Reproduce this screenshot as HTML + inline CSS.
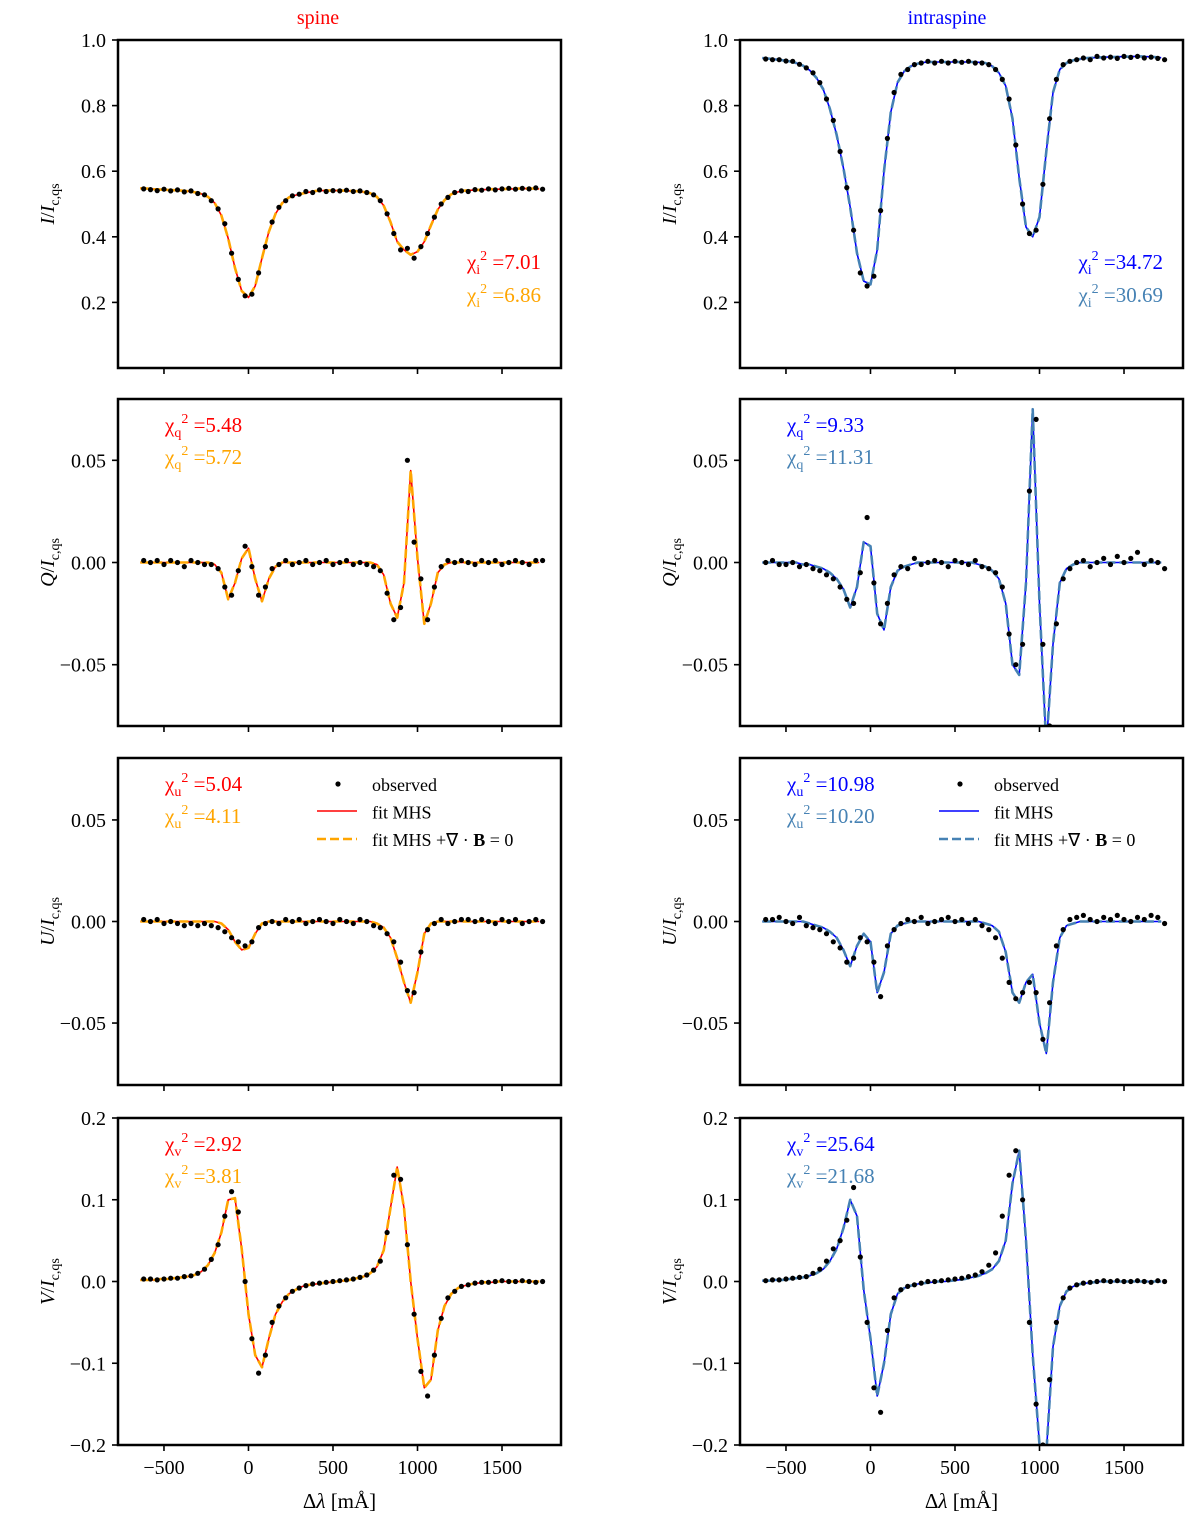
<!DOCTYPE html>
<html><head><meta charset="utf-8"><style>
body{margin:0;background:#fff}
svg{display:block;font-family:"Liberation Serif",serif}
</style></head><body>
<svg id="fig" width="1200" height="1529" xmlns="http://www.w3.org/2000/svg"></svg>
<script>
const X = [-640,-600,-560,-520,-480,-440,-400,-360,-320,-280,-240,-200,-160,-120,-80,-40,0,40,80,120,160,200,240,280,320,360,400,440,480,520,560,600,640,680,720,760,800,840,880,920,960,1000,1040,1080,1120,1160,1200,1240,1280,1320,1360,1400,1440,1480,1520,1560,1600,1640,1680,1720];
const XOBS = X.map(v => v + 20);
const xTicks = [-500, 0, 500, 1000, 1500];
const xTickLabels = ['\u2212500','0','500','1000','1500'];

const spineI_fit = [.548,.547,.545,.544,.543,.542,.541,.539,.536,.531,.522,.503,.465,.395,.305,.235,.215,.25,.335,.415,.47,.503,.52,.527,.532,.536,.54,.541,.541,.541,.541,.54,.539,.537,.533,.522,.495,.445,.385,.36,.345,.355,.385,.435,.483,.512,.53,.537,.541,.542,.543,.544,.545,.545,.546,.546,.547,.547,.547,.546];
const spineI_obs = [.546,.544,.541,.545,.540,.543,.537,.540,.532,.528,.51,.485,.44,.35,.27,.22,.225,.29,.37,.445,.49,.51,.525,.53,.538,.535,.543,.538,.541,.54,.542,.538,.54,.535,.528,.51,.47,.41,.36,.365,.335,.37,.41,.46,.50,.52,.535,.54,.538,.544,.542,.546,.543,.546,.548,.545,.548,.546,.549,.545];
const spineQ_fit = [0,0,0,0,0,0,0,0,0,0,0,-.001,-.005,-.018,-.01,.002,.007,-.008,-.019,-.008,-.002,0,0,0,0,0,0,0,0,0,0,0,0,0,0,-.001,-.006,-.02,-.027,-.01,.045,.002,-.03,-.02,-.005,-.001,0,0,0,0,0,0,0,0,0,0,0,0,0,0];
const spineQ_obs = [.001,0,.001,-.001,.001,0,-.002,.001,0,-.001,-.001,-.003,-.012,-.016,-.004,.008,-.002,-.016,-.012,-.003,-.001,.001,-.001,0,.001,-.001,0,.001,-.001,0,.001,-.001,0,-.001,-.002,-.004,-.015,-.028,-.022,.05,.01,-.008,-.028,-.012,-.002,.001,0,.001,0,-.001,.001,0,.001,-.001,0,.001,0,-.001,.001,.001];
const spineU_fit = [0,0,0,0,0,0,0,0,0,0,0,0,-.001,-.004,-.01,-.014,-.013,-.006,-.001,0,0,0,0,0,0,0,0,0,0,0,0,0,0,0,0,-.001,-.003,-.008,-.018,-.03,-.04,-.025,-.006,-.001,0,0,0,0,0,0,0,0,0,0,0,0,0,0,0,0];
const spineU_obs = [.001,0,.001,-.001,0,-.001,-.002,-.001,-.002,-.001,-.002,-.003,-.005,-.008,-.01,-.012,-.01,-.003,-.001,0,-.001,.001,0,.001,-.001,0,.001,0,-.001,.001,0,-.001,.001,0,-.002,-.003,-.006,-.01,-.02,-.034,-.035,-.015,-.004,-.001,.001,-.001,0,.001,.001,0,.001,0,-.001,.001,0,.001,-.001,0,.001,0];
const spineV_fit = [.002,.002,.002,.003,.003,.004,.005,.006,.008,.012,.02,.035,.06,.1,.102,.04,-.04,-.09,-.105,-.07,-.04,-.025,-.015,-.01,-.006,-.004,-.003,-.002,-.001,0,.001,.002,.004,.006,.01,.018,.038,.09,.14,.09,0,-.07,-.13,-.12,-.06,-.03,-.015,-.008,-.005,-.003,-.002,-.001,-.001,0,0,0,0,0,0,0];
const spineV_obs = [.003,.003,.002,.003,.004,.004,.006,.007,.01,.015,.027,.045,.08,.11,.085,0,-.07,-.112,-.09,-.05,-.03,-.02,-.012,-.008,-.005,-.003,-.002,-.001,0,.001,.002,.003,.005,.008,.014,.025,.06,.13,.125,.045,-.04,-.11,-.14,-.09,-.045,-.02,-.012,-.006,-.004,-.002,-.001,-.001,0,.001,0,0,.001,0,-.001,0];

const intraI_fit = [.945,.943,.941,.938,.935,.93,.922,.908,.885,.85,.79,.71,.61,.49,.35,.265,.255,.36,.6,.78,.87,.905,.92,.928,.932,.933,.933,.933,.933,.933,.933,.933,.932,.93,.92,.9,.86,.76,.58,.43,.40,.46,.66,.84,.91,.93,.938,.942,.945,.946,.947,.948,.948,.949,.949,.95,.95,.949,.948,.946];
const intraI_obs = [.942,.94,.94,.936,.935,.926,.915,.9,.87,.82,.755,.66,.55,.42,.29,.25,.28,.48,.7,.84,.895,.91,.925,.93,.935,.93,.935,.93,.935,.932,.935,.93,.93,.925,.91,.88,.82,.68,.5,.41,.42,.56,.76,.88,.925,.935,.94,.945,.94,.95,.945,.948,.944,.95,.947,.95,.945,.948,.944,.94];
const intraQ_fit = [0,0,0,0,0,0,-.001,-.001,-.002,-.003,-.005,-.008,-.013,-.022,-.012,.01,.008,-.025,-.033,-.012,-.004,-.002,-.001,0,0,0,0,0,0,0,0,0,-.001,-.002,-.004,-.008,-.02,-.05,-.055,-.01,.075,-.02,-.09,-.04,-.01,-.003,-.001,0,0,0,0,0,0,0,0,0,0,0,0,0];
const intraQ_obs = [0,.001,-.001,-.001,0,-.002,-.001,-.003,-.004,-.006,-.008,-.012,-.018,-.02,-.005,.022,-.01,-.03,-.02,-.006,-.002,-.003,.002,-.001,0,.001,0,-.002,.001,0,-.001,.001,-.002,-.003,-.005,-.012,-.035,-.05,-.04,.035,.07,-.04,-.08,-.03,-.008,-.003,0,.001,-.002,0,.002,-.001,.003,0,.002,.005,-.001,.001,0,-.003];
const intraU_fit = [0,0,0,0,0,0,0,-.001,-.002,-.003,-.005,-.008,-.014,-.022,-.012,-.006,-.01,-.035,-.025,-.006,-.002,-.001,0,0,0,0,0,0,0,0,0,0,0,-.001,-.002,-.005,-.015,-.035,-.04,-.03,-.026,-.05,-.065,-.03,-.008,-.002,-.001,0,0,0,0,0,0,0,0,0,0,0,0,0];
const intraU_obs = [.001,.001,.002,0,-.001,.002,-.002,-.003,-.004,-.006,-.01,-.013,-.02,-.018,-.008,-.01,-.02,-.037,-.012,-.004,-.001,.001,0,.002,-.001,0,.001,.002,0,.001,-.001,.001,-.002,-.004,-.008,-.018,-.03,-.038,-.035,-.03,-.035,-.058,-.04,-.012,-.004,.001,.002,.003,.001,0,.002,.001,.003,.001,0,.002,.001,.003,.002,-.001];
const intraV_fit = [.001,.001,.002,.002,.003,.004,.005,.007,.01,.015,.025,.04,.065,.1,.08,-.01,-.07,-.14,-.1,-.04,-.015,-.008,-.005,-.003,-.002,-.001,0,0,.001,.002,.003,.005,.007,.01,.015,.025,.05,.12,.16,.05,-.09,-.2,-.21,-.08,-.03,-.012,-.006,-.003,-.002,-.001,0,0,0,0,0,0,0,0,0,0];
const intraV_obs = [.001,.002,.002,.003,.004,.005,.006,.01,.015,.025,.04,.05,.075,.115,.03,-.05,-.13,-.16,-.06,-.02,-.01,-.006,-.004,-.002,0,0,.001,.002,.003,.004,.006,.008,.012,.02,.035,.08,.13,.16,.1,-.05,-.15,-.2,-.12,-.05,-.02,-.008,-.004,-.002,-.001,0,.001,0,.001,0,0,.001,0,-.001,.001,0];

const ticksI = [0.2,0.4,0.6,0.8,1.0];
const ticksIlab = ['0.2','0.4','0.6','0.8','1.0'];
const ticksQU = [0.05,0,-0.05];
const ticksQUlab = ['0.05','0.00','\u22120.05'];
const ticksV = [0.2,0.1,0,-0.1,-0.2];
const ticksVlab = ['0.2','0.1','0.0','\u22120.1','\u22120.2'];
const chiLeft = [['i','7.01','6.86'],['q','5.48','5.72'],['u','5.04','4.11'],['v','2.92','3.81']];
const chiRight = [['i','34.72','30.69'],['q','9.33','11.31'],['u','10.98','10.20'],['v','25.64','21.68']];

const NS='http://www.w3.org/2000/svg';
const svg=document.getElementById('fig');
function mk(tag,attrs,parent){const e=document.createElementNS(NS,tag);for(const k in attrs)e.setAttribute(k,attrs[k]);(parent||svg).appendChild(e);return e;}

const cols=[{x0:118,x1:561,tx:318,solid:'#ff0000',dash:'#ffa500',chi1:'#ff0000',chi2:'#ffa500',name:'spine'},
            {x0:740,x1:1183,tx:947,solid:'#0000ff',dash:'#4682b4',chi1:'#0000ff',chi2:'#4682b4',name:'intraspine'}];
const rows=[{y0:40,y1:368,ymin:0.0,ymax:1.0,ticks:ticksI,lab:ticksIlab,st:'I'},
            {y0:399,y1:726,ymin:-0.08,ymax:0.08,ticks:ticksQU,lab:ticksQUlab,st:'Q'},
            {y0:758,y1:1085,ymin:-0.0805,ymax:0.0805,ticks:ticksQU,lab:ticksQUlab,st:'U'},
            {y0:1118,y1:1445,ymin:-0.2,ymax:0.2,ticks:ticksV,lab:ticksVlab,st:'V'}];
const data=[[[spineI_fit,spineI_obs],[spineQ_fit,spineQ_obs],[spineU_fit,spineU_obs],[spineV_fit,spineV_obs]],
            [[intraI_fit,intraI_obs],[intraQ_fit,intraQ_obs],[intraU_fit,intraU_obs],[intraV_fit,intraV_obs]]];
const XMIN=-772, XMAX=1849;

cols.forEach((c,ci)=>{
  const t=mk('text',{x:c.tx,y:24,'text-anchor':'middle','font-size':20,fill:c.solid});
  
  
  t.textContent=c.name;
  rows.forEach((r,ri)=>{
    const sx=v=>c.x0+(v-XMIN)/(XMAX-XMIN)*(c.x1-c.x0);
    const sy=v=>r.y1-(v-r.ymin)/(r.ymax-r.ymin)*(r.y1-r.y0);
    const g=mk('g',{});
    
    
    const cid='clip'+ci+ri;
    const cp=mk('clipPath',{id:cid},g);mk('rect',{x:c.x0,y:r.y0,width:c.x1-c.x0,height:r.y1-r.y0},cp);
    const [fit,obs]=data[ci][ri];
    const pts=X.map((v,i)=>sx(v).toFixed(1)+','+sy(fit[i]).toFixed(1)).join(' ');
    const l1=mk('polyline',{points:pts,fill:'none',stroke:c.solid,'stroke-width':1.6,'stroke-linejoin':'round','clip-path':'url(#'+cid+')'},g);
    
    
    const l2=mk('polyline',{points:pts,fill:'none',stroke:c.dash,'stroke-width':2.6,'stroke-dasharray':'9,4','stroke-linejoin':'round','clip-path':'url(#'+cid+')'},g);
    
    
    obs.forEach((v,i)=>{
      const d=mk('circle',{cx:sx(XOBS[i]).toFixed(1),cy:sy(v).toFixed(1),r:2.6,fill:'#000','clip-path':'url(#'+cid+')'},g);
      
      
    });
    const fr=mk('rect',{x:c.x0,y:r.y0,width:c.x1-c.x0,height:r.y1-r.y0,fill:'none',stroke:'#000','stroke-width':2.5},g);
    
    
    r.ticks.forEach((tv,k)=>{
      const y=sy(tv);
      mk('line',{x1:c.x0-6,x2:c.x0,y1:y,y2:y,stroke:'#000','stroke-width':1.6},g);
      const tl=mk('text',{x:c.x0-12,y:y+7,'text-anchor':'end','font-size':20},g);
      
      
      tl.textContent=r.lab[k];
    });
    xTicks.forEach((tv,k)=>{
      const x=sx(tv);
      mk('line',{x1:x,x2:x,y1:r.y1,y2:r.y1+6,stroke:'#000','stroke-width':1.6},g);
      if(ri===3){
        const tl=mk('text',{x:x,y:r.y1+29,'text-anchor':'middle','font-size':20},g);
        
        
        tl.textContent=xTickLabels[k];
      }
    });
    const yl=mk('text',{transform:`translate(${c.x0-64},${(r.y0+r.y1)/2}) rotate(-90)`,'text-anchor':'middle','font-size':20},g);
    
    
    yl.innerHTML=`<tspan font-style="italic">${r.st}</tspan>/<tspan font-style="italic">I</tspan><tspan font-size="14" dy="5">c,qs</tspan>`;
    if(ri===3){
      const xl=mk('text',{x:(c.x0+c.x1)/2,y:1508,'text-anchor':'middle','font-size':21},g);
      
      
      xl.innerHTML='Δ<tspan font-style="italic">λ</tspan> [mÅ]';
    }
    const chi=(ci===0?chiLeft:chiRight)[ri];
    let cx,anchor,cy1,cy2;
    if(ri===0){cx=c.x1-20;anchor='end';cy1=r.y0+229;cy2=r.y0+262;}
    else{cx=c.x0+47;anchor='start';cy1=r.y0+33;cy2=r.y0+65;}
    [[chi[1],c.chi1,cy1],[chi[2],c.chi2,cy2]].forEach(([val,col,yy])=>{
      const ct=mk('text',{x:cx,y:yy,'text-anchor':anchor,'font-size':21,fill:col},g);
      
      
      ct.innerHTML=`χ<tspan font-size="14" dy="5">${chi[0]}</tspan><tspan font-size="14" dy="-14">2</tspan><tspan dy="9"> =${val}</tspan>`;
    });
    if(ri===2){
      const lg=mk('g',{},g);
      
      
      const lx=c.x0+199;
      mk('circle',{cx:lx+21,cy:r.y0+26,r:2.6,fill:'#000'},lg);
      mk('line',{x1:lx,x2:lx+40,y1:r.y0+53,y2:r.y0+53,stroke:c.solid,'stroke-width':1.6},lg);
      mk('line',{x1:lx,x2:lx+40,y1:r.y0+81,y2:r.y0+81,stroke:c.dash,'stroke-width':2.6,'stroke-dasharray':'9,4'},lg);
      const texts=['observed','fit MHS','fit MHS +∇ · <tspan font-weight="bold">B</tspan> = 0'];
      texts.forEach((tx,k)=>{
        const e=mk('text',{x:lx+55,y:r.y0+33+k*27.5,'font-size':18},lg);
        
        
        e.innerHTML=tx;
      });
    }
  });
});
</script>
</body></html>
